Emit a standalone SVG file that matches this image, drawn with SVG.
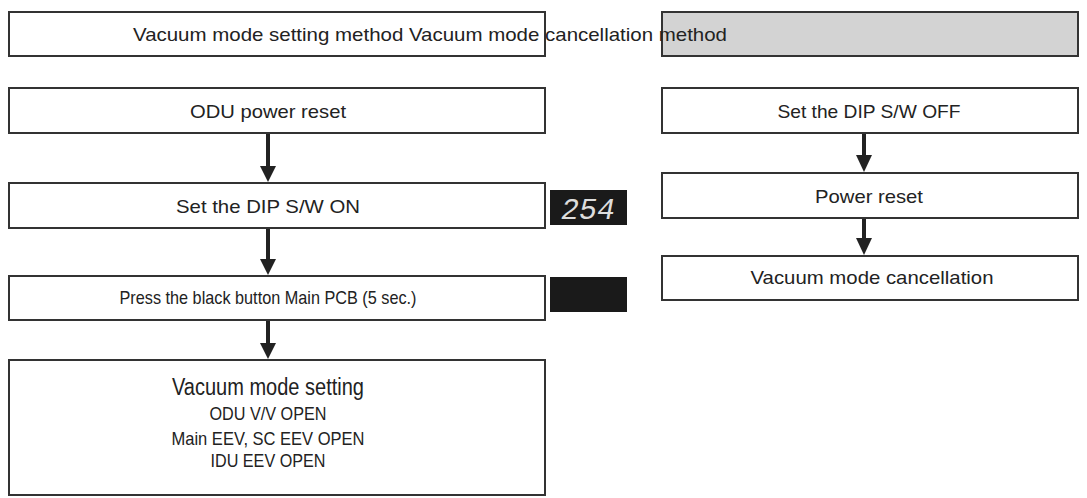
<svg xmlns="http://www.w3.org/2000/svg" width="1087" height="498" viewBox="0 0 1087 498">
<style>
.b{fill:#fff;stroke:#333;stroke-width:2}
.t{font-family:"Liberation Sans",Arial,sans-serif;font-size:19px;fill:#222;text-anchor:middle}
</style>
<rect width="1087" height="498" fill="#fff"/>
<g id="hdr-r"><rect class="b" x="662" y="12" width="416" height="44" style="fill:#d3d3d3"/></g>
<g id="hdr-l"><rect class="b" x="9" y="12" width="536" height="44"/><text class="t" x="430" y="41" textLength="594" lengthAdjust="spacingAndGlyphs">Vacuum mode setting method Vacuum mode cancellation method</text></g>
<g id="n1"><rect class="b" x="9" y="88" width="536" height="45"/><text class="t" x="268" y="118" textLength="156" lengthAdjust="spacingAndGlyphs">ODU power reset</text></g>
<g id="n2"><rect class="b" x="9" y="183" width="536" height="45"/><text class="t" x="268" y="213" textLength="184" lengthAdjust="spacingAndGlyphs">Set the DIP S/W ON</text></g>
<g id="d1"><rect x="550" y="190" width="77" height="35" fill="#1a1a1a"/><text x="588" y="219" font-family="Liberation Mono,monospace" font-size="30" font-style="italic" fill="#ddd" text-anchor="middle">254</text></g>
<g id="n3"><rect class="b" x="9" y="276" width="536" height="44"/><text class="t" x="268" y="304" textLength="297" lengthAdjust="spacingAndGlyphs">Press the black button Main PCB (5 sec.)</text></g>
<g id="d2"><rect x="550" y="277" width="77" height="35" fill="#1a1a1a"/></g>
<g id="n4"><rect class="b" x="9" y="360" width="536" height="135"/>
<text class="t" x="268" y="395" style="font-size:23px" textLength="192" lengthAdjust="spacingAndGlyphs">Vacuum mode setting</text>
<text class="t" x="268" y="420" textLength="117" lengthAdjust="spacingAndGlyphs">ODU V/V OPEN</text>
<text class="t" x="268" y="445" textLength="193" lengthAdjust="spacingAndGlyphs">Main EEV, SC EEV OPEN</text>
<text class="t" x="268" y="467" textLength="115" lengthAdjust="spacingAndGlyphs">IDU EEV OPEN</text></g>
<g id="m1"><rect class="b" x="662" y="88" width="416" height="45"/><text class="t" x="869" y="118" textLength="183" lengthAdjust="spacingAndGlyphs">Set the DIP S/W OFF</text></g>
<g id="m2"><rect class="b" x="662" y="173" width="416" height="45"/><text class="t" x="869" y="203" textLength="108" lengthAdjust="spacingAndGlyphs">Power reset</text></g>
<g id="m3"><rect class="b" x="662" y="256" width="416" height="44"/><text class="t" x="872" y="284" textLength="243" lengthAdjust="spacingAndGlyphs">Vacuum mode cancellation</text></g>
<g id="connectors" fill="#222">
<rect x="266" y="134" width="4" height="34"/><path d="M260,166 L276,166 L268,182 Z"/>
<rect x="266" y="229" width="4" height="32"/><path d="M260,259 L276,259 L268,275 Z"/>
<rect x="266" y="321" width="4" height="24"/><path d="M260,343 L276,343 L268,359 Z"/>
<rect x="862" y="134" width="4" height="22"/><path d="M856,155 L872,155 L864,172 Z"/>
<rect x="862" y="219" width="4" height="20"/><path d="M856,238 L872,238 L864,255 Z"/>
</g>
</svg>
